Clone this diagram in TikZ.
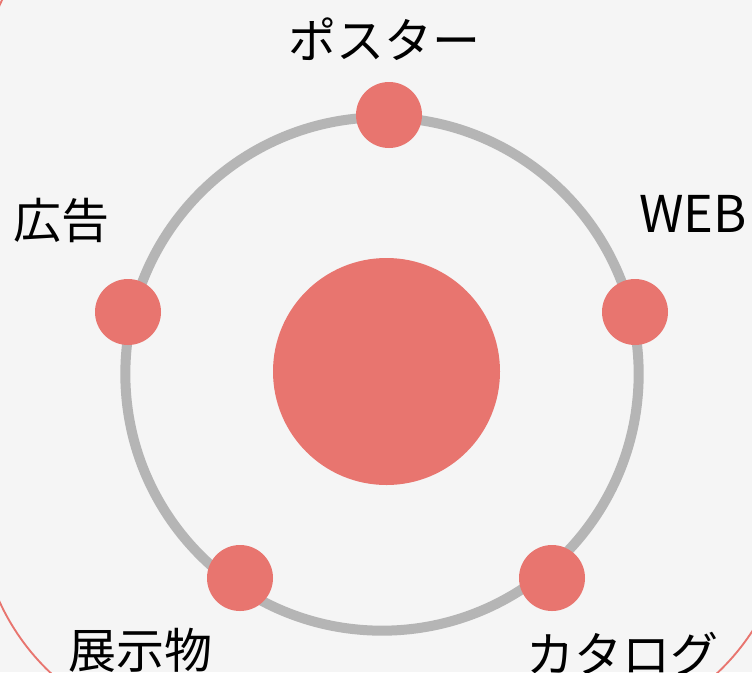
\documentclass[tikz,border=0pt]{standalone}
\usepackage{fontspec}
\setmainfont{Noto Sans CJK JP}
\definecolor{bgc}{HTML}{F5F5F5}
\definecolor{dotc}{HTML}{E8756F}
\definecolor{ringc}{HTML}{B5B5B5}
\begin{document}
\begin{tikzpicture}[x=0.75pt,y=-0.75pt,
  dot/.style={circle,fill=dotc,draw=none,minimum size=49.5pt,inner sep=0pt},
  hub/.style={circle,fill=dotc,draw=none,minimum size=170.25pt,inner sep=0pt},
  lbl/.style={anchor=base,inner sep=0pt,font=\fontsize{36}{40}\selectfont},
  ring/.style={draw=ringc,line width=7.5pt},
  frame/.style={draw=dotc,line width=1.4pt,rounded corners=171pt}]
\useasboundingbox (0,0) rectangle (752,672);
\clip (0,0) rectangle (752,672);
\fill[bgc] (0,0) rectangle (752,672);
% large rounded frame (mostly outside the view)
\coordinate (fa) at (-21,-128);
\coordinate (fb) at (789,735);
\draw[frame] (fa) rectangle (fb);
% ring
\coordinate (rc) at (382,374);
\draw[ring] (rc) circle [radius=192.5pt];
% hub
\node[hub] (hub) at (386.5,371.5) {};
% satellites
\node[dot] (poster) at (389,115) {};
\node[dot] (web) at (635,312) {};
\node[dot] (ad) at (128,312) {};
\node[dot] (exhibit) at (240,578) {};
\node[dot] (catalog) at (552,578) {};
% labels
\node[lbl] (tposter) at (384,58) {ポスター};
\node[lbl,font=\fontsize{38}{42}\selectfont] (tweb) at (693,232) {WEB};
\node[lbl] (tad) at (61,238) {広告};
\node[lbl] (texhibit) at (140,668) {展示物};
\node[lbl] (tcatalog) at (622,672) {カタログ};
\end{tikzpicture}
\end{document}
